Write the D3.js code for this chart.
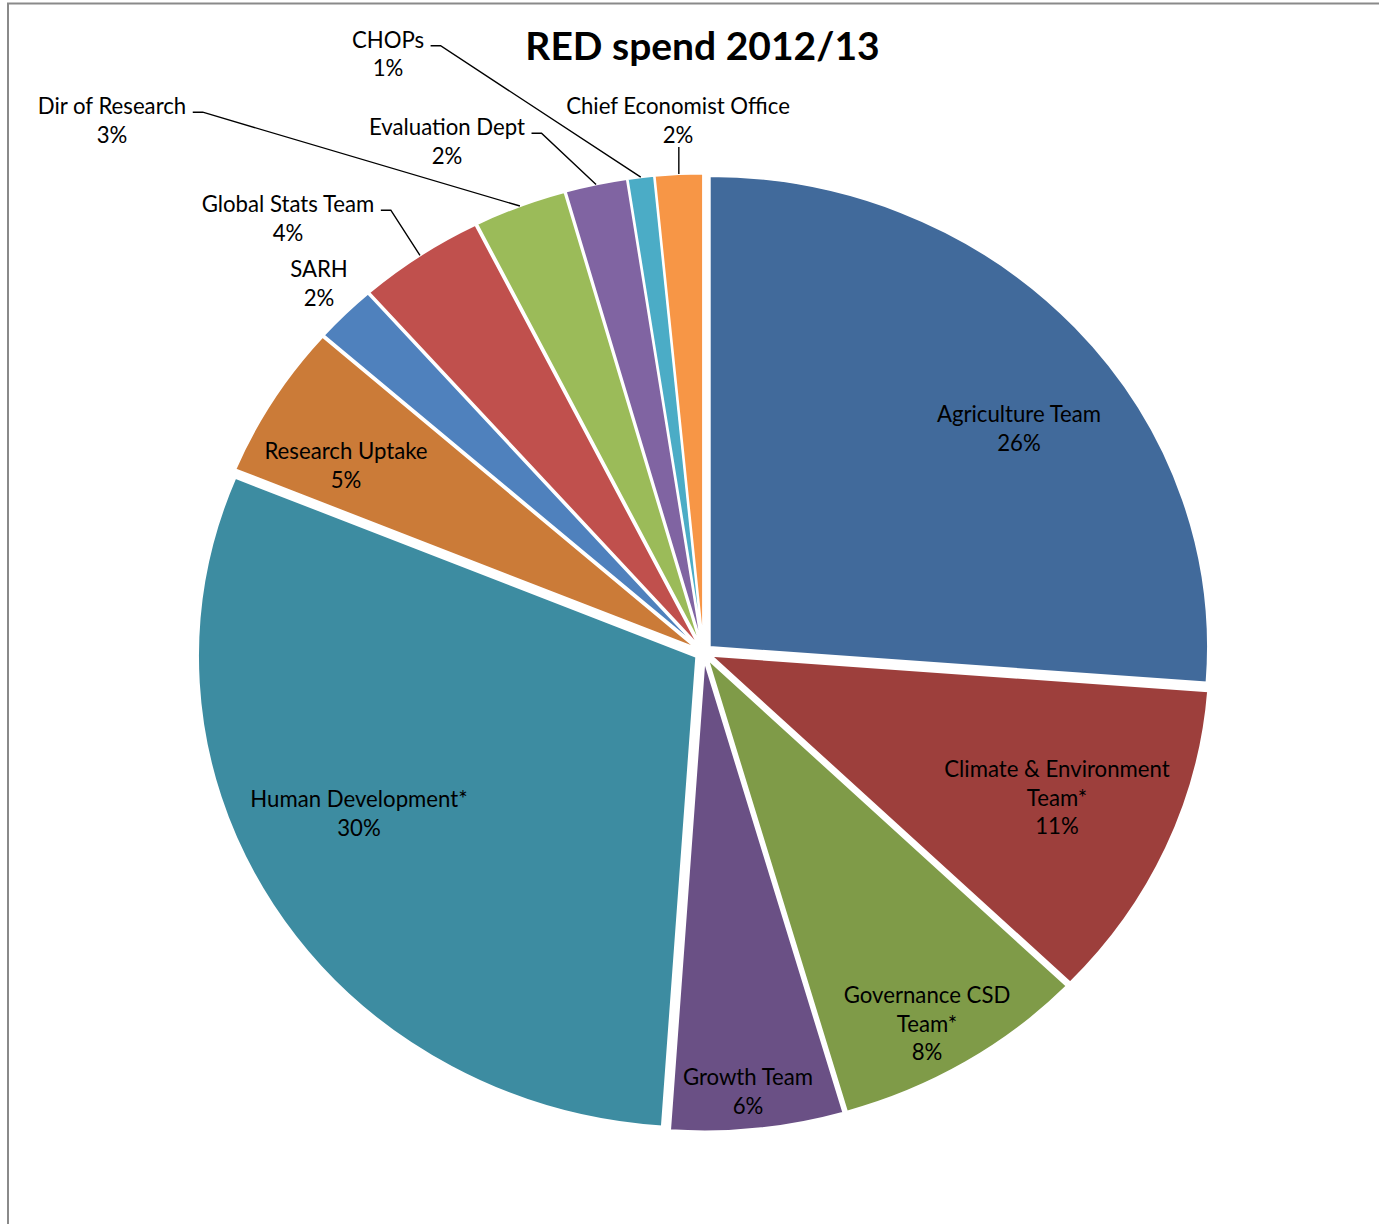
<!DOCTYPE html>
<html>
<head>
<meta charset="utf-8">
<script src="https://cdn.jsdelivr.net/npm/d3@7"></script>
<style>
  html, body { margin: 0; padding: 0; background: #ffffff; }
  svg { display: block; }
</style>
</head>
<body>
<script>
// ---------------- DATA ----------------
const categories = [
  "Agriculture Team", "Climate & Environment Team*", "Governance CSD Team*", "Growth Team",
  "Human Development*", "Research Uptake", "SARH", "Global Stats Team",
  "Dir of Research", "Evaluation Dept", "CHOPs", "Chief Economist Office"
];
const spendShare = [26.2, 11.0, 8.3, 5.6, 30.1, 5.3, 2.0, 4.1, 3.0, 2.0, 0.85, 1.55];
const sliceColors = [
  "#416a9b", "#9d3f3c", "#7f9b48", "#6a5085", "#3d8ca1", "#cb7b38",
  "#4f81bd", "#c0504d", "#9bbb59", "#8064a2", "#4bacc6", "#f79646"
];
const chartTitle = "RED spend 2012/13";

// ---------------- LAYOUT (positions only) ----------------
const W = 1379, H = 1224;
const cx = 703.5, cy = 652.5, R = 471, kx = 1.058, explode = 8;
// label centre x, first baseline y, wrap (split last word to 2nd line), leader type
const labelLayout = [
  {x: 1019, y: 422,  wrap: false, leader: null},
  {x: 1057, y: 777,  wrap: true,  leader: null},
  {x: 927,  y: 1003, wrap: true,  leader: null},
  {x: 748,  y: 1085, wrap: false, leader: null},
  {x: 359,  y: 807,  wrap: false, leader: null},
  {x: 346,  y: 459,  wrap: false, leader: null},
  {x: 319,  y: 277,  wrap: false, leader: null},
  {x: 288,  y: 212,  wrap: false, leader: "side"},
  {x: 112,  y: 114,  wrap: false, leader: "side"},
  {x: 447,  y: 135,  wrap: false, leader: "side"},
  {x: 388,  y: 47.5, wrap: false, leader: "side"},
  {x: 678,  y: 114,  wrap: false, leader: "below"}
];
const lineGap = 28.6;
const fontFamily = "Lato, 'Open Sans', 'DejaVu Sans', sans-serif";

// ---------------- DRAW ----------------
const svg = d3.select("body").append("svg")
  .attr("width", W).attr("height", H)
  .attr("viewBox", `0 0 ${W} ${H}`);

svg.append("rect").attr("width", W).attr("height", H).attr("fill", "#ffffff");

// chart area border (only top & left visible in the crop)
svg.append("path")
  .attr("d", `M8,${H + 5} L8,3.5 L${W + 5},3.5`)
  .attr("fill", "none").attr("stroke", "#8a8a8a").attr("stroke-width", 2);

const data = categories.map((c, i) => ({name: c, value: spendShare[i], color: sliceColors[i], layout: labelLayout[i]}));
const total = d3.sum(spendShare);

const pie = d3.pie().sort(null).value(d => d.value).startAngle(0).endAngle(2 * Math.PI);
const arcs = pie(data);
const arcGen = d3.arc().innerRadius(0).outerRadius(R);

const pieG = svg.append("g").attr("transform", `translate(${cx},${cy}) scale(${kx},1)`);

function offsetOf(a) {
  const m = (a.startAngle + a.endAngle) / 2;
  return [explode * Math.sin(m), -explode * Math.cos(m)];
}
function toScreen(u, v) { return [cx + kx * u, cy + v]; }

pieG.selectAll("g.slice").data(arcs).join("g")
  .attr("class", "slice")
  .attr("transform", d => { const o = offsetOf(d); return `translate(${o[0]},${o[1]})`; })
  .append("path")
  .attr("d", arcGen)
  .attr("fill", d => d.data.color)
  .attr("stroke", "#ffffff")
  .attr("stroke-width", 2)
  .attr("vector-effect", "non-scaling-stroke");

// title
svg.append("text")
  .attr("x", 702.5).attr("y", 60)
  .attr("text-anchor", "middle")
  .attr("font-family", fontFamily)
  .attr("font-weight", "bold")
  .attr("font-size", 39)
  .attr("fill", "#000")
  .text(chartTitle);

// labels
const labG = svg.append("g");
arcs.forEach(a => {
  const L = a.data.layout;
  const pct = Math.round(a.data.value / total * 100) + "%";
  let lines;
  if (L.wrap) {
    const k = a.data.name.lastIndexOf(" ");
    lines = [a.data.name.slice(0, k), a.data.name.slice(k + 1), pct];
  } else {
    lines = [a.data.name, pct];
  }
  const t = labG.append("text")
    .attr("text-anchor", "middle")
    .attr("font-family", fontFamily)
    .attr("font-size", 22.2)
    .attr("fill", "#000");
  lines.forEach((s, j) => {
    t.append("tspan").attr("x", L.x).attr("y", L.y + j * lineGap).text(s);
  });

  if (L.leader) {
    const m = (a.startAngle + a.endAngle) / 2;
    const o = offsetOf(a);
    const p = toScreen(R * Math.sin(m) + o[0], -R * Math.cos(m) + o[1]);
    let pts;
    if (L.leader === "side") {
      const first = t.select("tspan").node();
      const w = first.getComputedTextLength();
      const xEnd = L.x + w / 2;
      const ly = L.y - 1.8;
      pts = [[xEnd + 6.5, ly], [xEnd + 16.5, ly], p];
    } else {
      const yTop = L.y + lineGap * (lines.length - 1) + 4.5;
      pts = [[p[0], yTop], p];
    }
    labG.append("path")
      .attr("d", d3.line()(pts))
      .attr("fill", "none")
      .attr("stroke", "#000")
      .attr("stroke-width", 1.4);
  }
});
</script>
</body>
</html>
